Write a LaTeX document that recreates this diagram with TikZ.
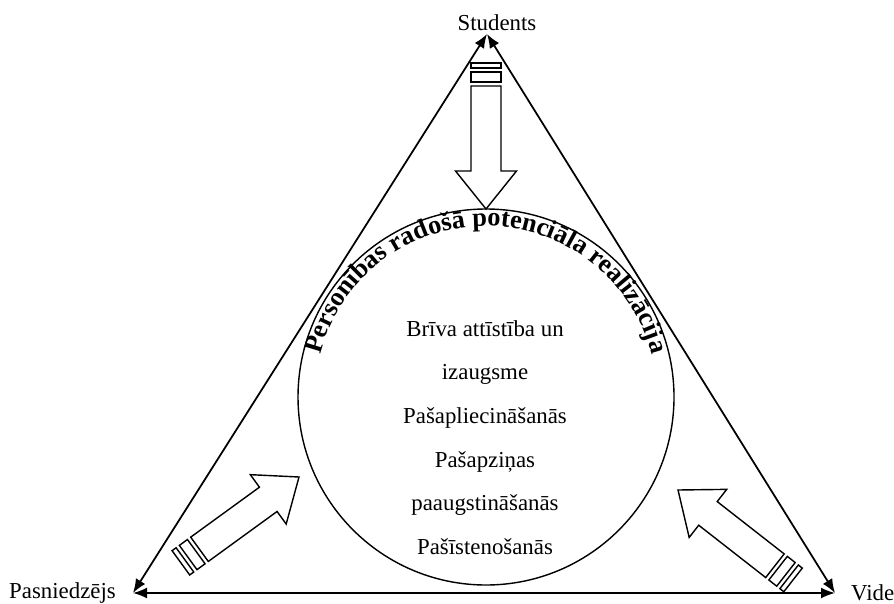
\documentclass[tikz,border=0pt]{standalone}
\usepackage{fontspec}
\setmainfont{Liberation Serif}
\usepackage{tikz}
\usetikzlibrary{arrows.meta,positioning,decorations.text}

\tikzset{
    side/.style={line width=1pt,{Latex[length=2.8mm,width=2.2mm]}-{Latex[length=2.8mm,width=2.2mm]}},
    label/.style={font=\fontsize{13}{16}\selectfont},
    blockarrow/.style={draw,line width=0.8pt,line join=miter,fill=white}
}

\begin{document}
\begin{tikzpicture}
    \useasboundingbox (0,0) rectangle (17.88,12.06);

    % Corners of the triangle
    \coordinate (stud) at (9.74,11.38);
    \coordinate (pasn) at (2.66,0.20);
    \coordinate (vide) at (16.70,0.20);

    \node[label,above=-0.05cm of stud,xshift=0.2cm] (studlbl) {Students};
    \node[label,left=0.22cm of pasn] (pasnlbl) {Pasniedzējs};
    \node[label,right=0.2cm of vide] (videlbl) {Vide};

    % Triangle sides
    \draw[side] (stud) -- (pasn);
    \draw[side] (pasn) -- (vide);
    \draw[side] (vide) -- (stud);

    % Central circle
    \node[circle,draw,line width=0.8pt,minimum size=7.52cm,inner sep=0pt] (goal) at (9.72,4.12) {};

    % Curved heading inside the circle
    \path[decorate,decoration={text along path,text align=center,
        text={|\bfseries\fontsize{15}{18}\selectfont|Personības radošā potenciāla realizācija}}]
        (goal.center) ++(170:3.42) arc[start angle=170,end angle=10,radius=3.42];

    \node[align=center,font=\fontsize{13}{24.8}\selectfont] (goaltxt) at (9.70,3.31)
        {Brīva attīstība un\\izaugsme\\Pašapliecināšanās\\Pašapziņas\\paaugstināšanās\\Pašīstenošanās};

    % Striped block arrows towards the circle
    \foreach \tx/\ty/\ang in {9.72/7.88/-90, 5.98/2.52/36, 13.56/2.26/142} {
        \begin{scope}[shift={(\tx,\ty)},rotate=\ang]
            \draw[blockarrow] (0,0) -- (-0.76,0.61) -- (-0.76,0.30) -- (-2.46,0.30)
                -- (-2.46,-0.30) -- (-0.76,-0.30) -- (-0.76,-0.61) -- cycle;
            \draw[blockarrow] (-2.54,-0.30) rectangle (-2.74,0.30);
            \draw[blockarrow] (-2.82,-0.30) rectangle (-2.92,0.30);
        \end{scope}
    }
\end{tikzpicture}
\end{document}
